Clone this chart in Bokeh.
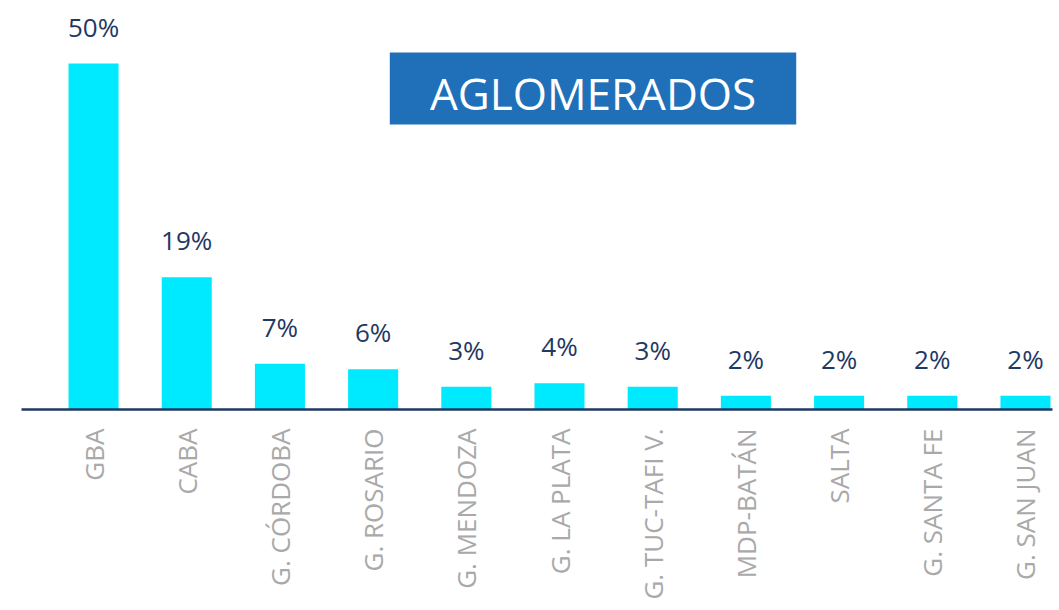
import math
from bokeh.plotting import figure
from bokeh.models import ColumnDataSource, Range1d, FixedTicker, BoxAnnotation, Label
from bokeh.embed import file_html
from bokeh.resources import INLINE
from bokeh.core.properties import value

categories = ["GBA", "CABA", "G. CÓRDOBA", "G. ROSARIO", "G. MENDOZA", "G. LA PLATA",
              "G. TUC-TAFI V.", "MDP-BATÁN", "SALTA", "G. SANTA FE", "G. SAN JUAN"]
values = [50.0, 19.1, 6.6, 5.8, 3.3, 3.8, 3.3, 2.0, 2.0, 2.0, 2.0]
labels = ["50%", "19%", "7%", "6%", "3%", "4%", "3%", "2%", "2%", "2%", "2%"]
title_text = "AGLOMERADOS"

xs = list(range(len(categories)))
src = ColumnDataSource(dict(x=xs, top=values, lab=labels))

p = figure(width=1054, height=610, output_backend="svg", toolbar_location=None,
           x_range=Range1d(-0.773, 10.29), y_range=Range1d(0, 57.95),
           min_border_left=21, min_border_right=2, min_border_top=8, min_border_bottom=201)
p.outline_line_color = None
p.xgrid.visible = False
p.ygrid.visible = False
p.yaxis.visible = False

p.vbar(x="x", top="top", bottom=0, width=0.537, source=src, color="#00EAFF", line_color=None)
p.text(x="x", y="top", text="lab", source=src, text_align="center", text_baseline="alphabetic",
       y_offset=-37, text_color="#1F3864", text_font=value("Open Sans"), text_font_size="26px")

ax = p.xaxis[0]
ax.ticker = FixedTicker(ticks=xs)
ax.major_label_overrides = {i: c for i, c in enumerate(categories)}
ax.major_label_orientation = math.pi / 2
ax.major_label_text_color = "#A9A9A9"
ax.major_label_text_font = "Open Sans"
ax.major_label_text_font_size = "26px"
ax.major_label_standoff = 13
ax.major_tick_line_color = None
ax.minor_tick_line_color = None
ax.axis_line_color = "#1F3864"
ax.axis_line_width = 2.5

box = BoxAnnotation(left=3.179, right=7.540, bottom=41.18, top=51.59,
                    fill_color="#1F70B8", fill_alpha=1.0, line_color=None)
p.add_layout(box)
p.add_layout(Label(x=5.36, y=45.8, text=title_text, text_align="center", text_baseline="middle",
                   text_color="white", text_font="Open Sans", text_font_size="44px"))

open("out.html", "w").write(file_html(p, INLINE))
